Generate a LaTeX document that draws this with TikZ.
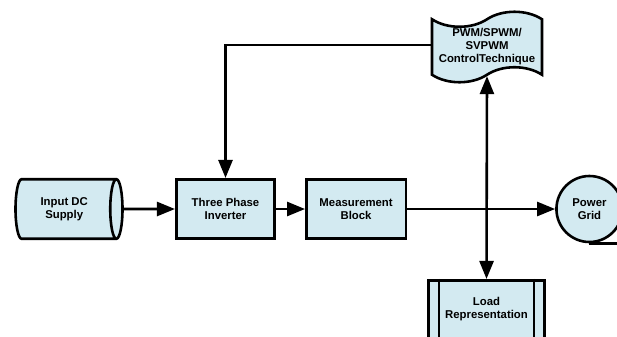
\documentclass[tikz,border=0pt]{standalone}
\usepackage{fontspec}
\setsansfont{Liberation Sans}
\usepackage{tikz}
\usetikzlibrary{positioning,shapes.geometric,shapes.symbols,arrows.meta}
\definecolor{boxfill}{RGB}{211,234,241}

\begin{document}
\begin{tikzpicture}[
    x=1bp, y=-1bp,
    node distance=30bp,
    font=\sffamily\bfseries\fontsize{11.4}{13}\selectfont,
    every node/.style={draw,line width=2.6pt,fill=boxfill,align=center,inner sep=2pt},
    block/.style={rectangle,minimum width=98.5bp,minimum height=59.5bp},
    supply/.style={cylinder,aspect=0.45,minimum width=59.5bp,minimum height=107bp},
    grid/.style={circle,minimum size=66bp},
    control/.style={tape,tape bend top=in and out,tape bend bottom=in and out,
        tape bend height=15bp,minimum width=110bp,minimum height=70bp},
    link/.style={line width=2.6pt,-{Triangle[length=18bp,width=14bp]}}
]
    \useasboundingbox (0,0) rectangle (617,336);

    % main power path
    \node[supply,anchor=shape center] (dc) at (69,209) {Input DC\\Supply};
    \node[block] (inv) at (225.5,209) {Three Phase\\Inverter};
    \node[block,minimum width=99.5bp] (meas) [right=29bp of inv] {Measurement\\Block};
    \node[grid] (pgrid) [right=148bp of meas] {Power\\Grid};

    % control and load
    \node[control] (pwm) at (487,47) {PWM/SPWM/\\SVPWM\\ControlTechnique};
    \node[block,minimum width=116.5bp,minimum height=58.5bp] (load) at (486.5,309.5) {Load\\Representation};
    \draw[line width=2.6pt] ([xshift=12bp]load.north west) -- ([xshift=12bp]load.south west);
    \draw[line width=2.6pt] ([xshift=-12bp]load.north east) -- ([xshift=-12bp]load.south east);
    \draw[line width=2.6pt] (pgrid.south) -- ++(40,0);

    % connectors
    \draw[link] (dc) -- (inv);
    \draw[link] (inv) -- (meas);
    \draw[link] (meas) -- (pgrid);
    \draw[link] ([yshift=2bp]pwm.west) -| (inv.north);
    \draw[link,{Triangle[length=18bp,width=14bp]}-{Triangle[length=18bp,width=14bp]}] (pwm.south) -- (load.north);
\end{tikzpicture}
\end{document}
